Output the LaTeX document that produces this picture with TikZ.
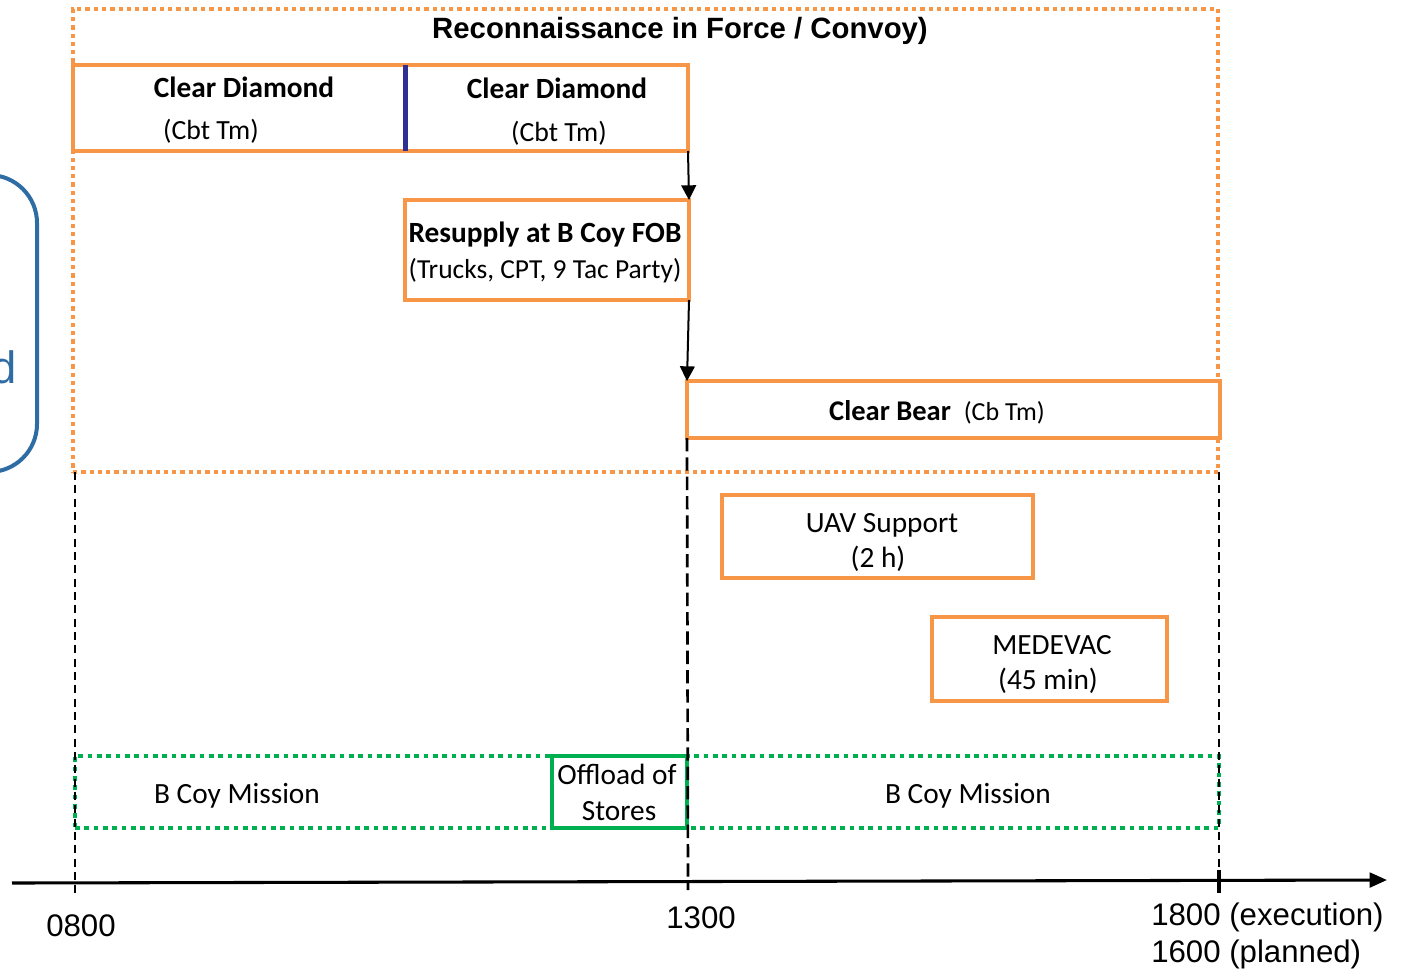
\documentclass[tikz,border=0pt]{standalone}
\usepackage{fontspec}
\setmainfont{Carlito}
\newfontfamily\arialf{Liberation Sans}
\usetikzlibrary{arrows.meta}
\definecolor{orng}{RGB}{247,150,70}
\definecolor{grn}{RGB}{0,176,80}
\definecolor{navyc}{RGB}{46,49,146}
\definecolor{bluebox}{RGB}{46,108,164}
\begin{document}
\begin{tikzpicture}[x=0.75pt,y=-0.75pt,
  obox/.style={draw=orng,line width=3pt,inner sep=0pt,outer sep=0pt,fill=white},
  odot/.style={draw=orng,line width=3.3pt,dash pattern=on 3.2pt off 3pt,inner sep=0pt,outer sep=0pt},
  gdot/.style={draw=grn,line width=2.8pt,dash pattern=on 3.4pt off 3.6pt,inner sep=0pt,outer sep=0pt},
  gbox/.style={draw=grn,line width=3pt,inner sep=0pt,outer sep=0pt},
  lbl/.style={inner sep=0pt,font=\fontsize{22}{26}\selectfont},
  lblb/.style={inner sep=0pt,font=\fontsize{22}{26}\selectfont\bfseries},
  sub/.style={inner sep=0pt,font=\fontsize{20.8}{24}\selectfont},
  axl/.style={inner sep=0pt,font=\arialf\fontsize{23.4}{28}\selectfont},
  vdash/.style={black,line width=1.2pt,dash pattern=on 6pt off 4pt},
  flow/.style={black,line width=1.5pt,-{Triangle[length=11pt,width=11pt]}}
]
\useasboundingbox (0,0) rectangle (1408,971);
% left partial blue box
\begin{scope}
\clip (0,0) rectangle (1408,971);
\draw[bluebox,line width=3pt,rounded corners=36pt] (-120,175) rectangle (37,472);
\node[inner sep=0pt,anchor=base east,text=bluebox,font=\arialf\fontsize{34}{40}\selectfont] (dtxt) at (17,383) {d};
\end{scope}
% outer orange dotted
\node[odot,minimum width=858.75pt,minimum height=347.25pt] (outer) at (645.5,240.5) {};
\node[inner sep=0pt,anchor=base,font=\arialf\bfseries\fontsize{22}{26}\selectfont] (title) at (680,38) {Reconnaissance in Force / Convoy)};
% clear diamond boxes
\node[obox,minimum width=249pt,minimum height=64.5pt] (cd1) at (239,108) {};
\node[obox,minimum width=212.25pt,minimum height=64.5pt] (cd2) at (546.5,108) {};
\draw[navyc,line width=3.75pt] (cd1.north east) -- (cd1.south east);
\node[lblb,anchor=base] (cd1a) at (244,97) {Clear Diamond};
\node[sub,anchor=base] (cd1b) at (211,139) {(Cbt Tm)};
\node[lblb,anchor=base] (cd2a) at (557,98) {Clear Diamond};
\node[sub,anchor=base] (cd2b) at (559,141) {(Cbt Tm)};
% resupply
\node[obox,minimum width=213pt,minimum height=75pt] (res) at (547,250) {};
\node[lblb,anchor=base] (resa) at (545,242) {Resupply at B Coy FOB};
\node[inner sep=0pt,font=\fontsize{20.6}{24}\selectfont,anchor=base] (resb) at (545,278) {(Trucks, CPT, 9 Tac Party)};
% clear bear
\node[obox,minimum width=399.75pt,minimum height=42.75pt] (bear) at (953.5,409.5) {};
\node[inner sep=0pt,anchor=base] (beart) at (937,420) {\fontsize{21.4}{24}\selectfont\bfseries Clear Bear\ \ \fontsize{19.5}{22}\selectfont\mdseries (Cb Tm)};
% UAV and MEDEVAC
\node[obox,minimum width=233.25pt,minimum height=62.25pt] (uav) at (877.5,536.5) {};
\node[lbl,anchor=base] (uava) at (882,532) {UAV Support};
\node[lbl,anchor=base] (uavb) at (878,567) {(2 h)};
\node[obox,minimum width=176.25pt,minimum height=63pt] (med) at (1049.5,659) {};
\node[lbl,anchor=base] (meda) at (1052,654) {MEDEVAC};
\node[lbl,anchor=base] (medb) at (1048,689) {(45 min)};
% green mission band
\node[gdot,minimum width=858pt,minimum height=54pt] (band) at (647,792) {};
\node[gbox,minimum width=101.25pt,minimum height=54pt] (off) at (619.5,792) {};
\node[lbl,anchor=base] (offa) at (617,784) {Offload of};
\node[lbl,anchor=base] (offb) at (619,820) {Stores};
\node[lbl,anchor=base] (bm1) at (237,803) {B Coy Mission};
\node[lbl,anchor=base] (bm2) at (968,803) {B Coy Mission};
% flow arrows
\draw[flow] (cd2.south east) -- (res.north east);
\draw[flow] (res.south east) -- (bear.north west);
% dashed time lines
\coordinate (v0t) at (75,472);
\coordinate (v0b) at (75,893);
\coordinate (v1b) at (688,890);
\coordinate (v2t) at (1219,472);
\coordinate (v2b) at (1219,893);
\draw[vdash] (v0t) -- (v0b);
\draw[vdash,line width=2pt,dash pattern=on 10pt off 4.5pt] (bear.south west) -- (v1b);
\draw[vdash] (v2t) -- (v2b);
% axis
\coordinate (axL) at (12,883);
\coordinate (axR) at (1387,880);
\draw[line width=2.3pt,-{Triangle[length=13pt,width=11pt]}] (axL) -- (axR);
\draw[line width=2.3pt] (1219,870) -- (v2b);
\node[axl,anchor=base] (t0) at (81,936) {0800};
\node[axl,anchor=base] (t1) at (701,928) {1300};
\node[axl,anchor=base west] (t2) at (1151,925) {1800 (execution)};
\node[axl,anchor=base west] (t3) at (1151,962) {1600 (planned)};
\end{tikzpicture}
\end{document}
